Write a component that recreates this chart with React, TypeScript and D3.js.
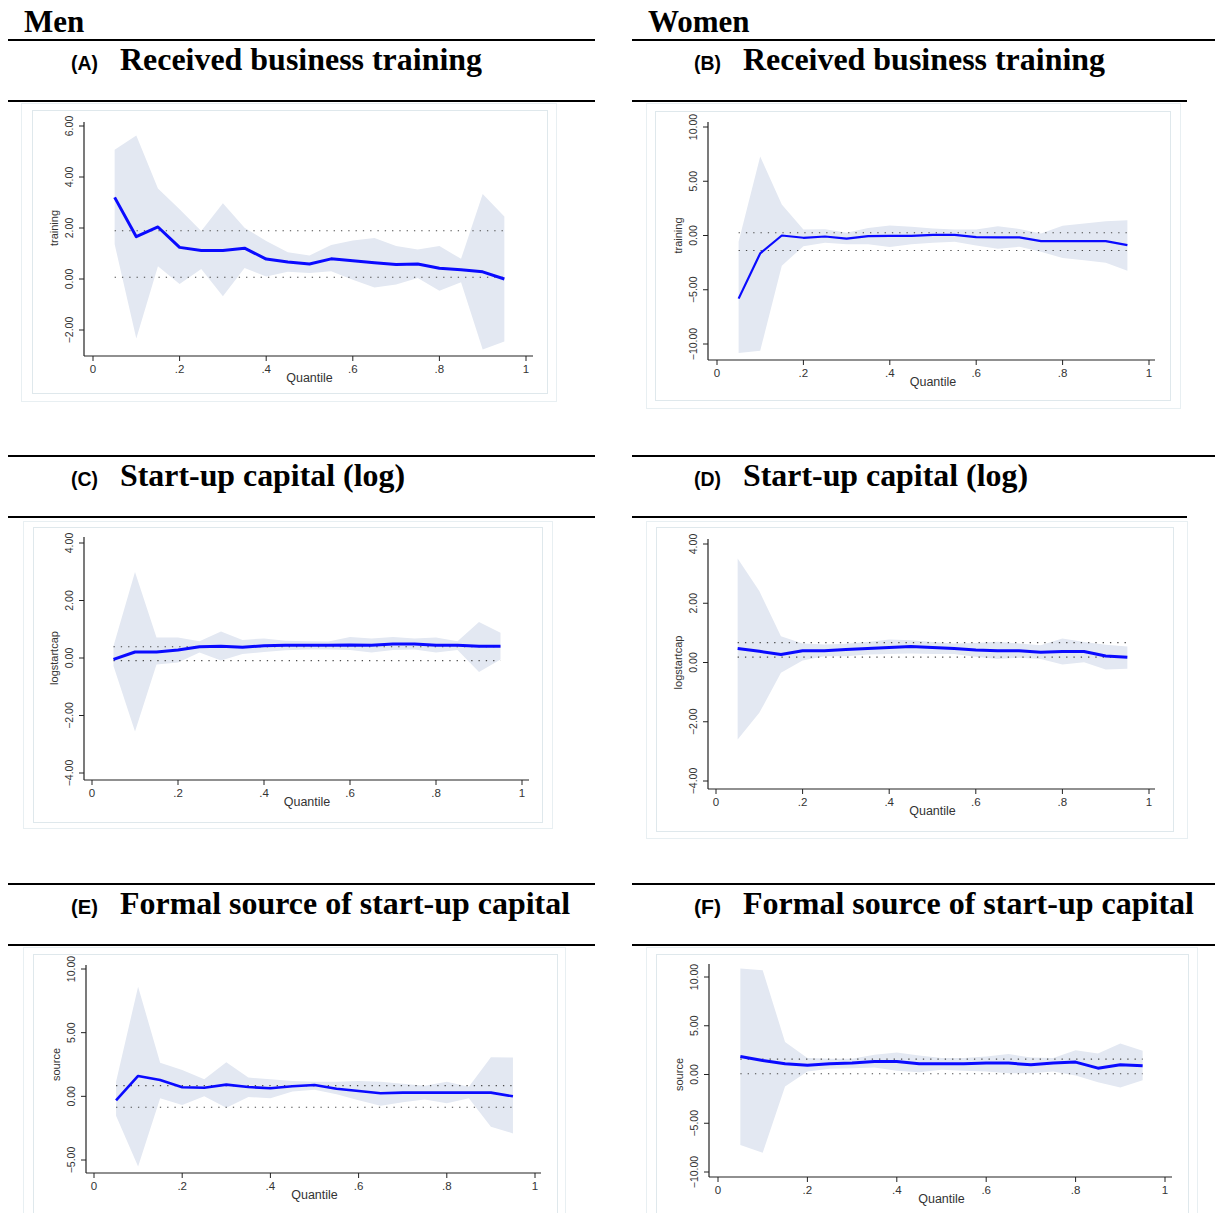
import React from "react";
import * as d3 from "d3";

// ---------- data ----------
const QUANTILES = [0.05, 0.1, 0.15, 0.2, 0.25, 0.3, 0.35, 0.4, 0.45, 0.5, 0.55, 0.6, 0.65, 0.7, 0.75, 0.8, 0.85, 0.9, 0.95];
const X_TICKS = [0, 0.2, 0.4, 0.6, 0.8, 1];
const X_TICK_LABELS = ["0", ".2", ".4", ".6", ".8", "1"];

const COLUMN_HEADERS = ["Men", "Women"];
const PANEL_LETTERS = ["(A)", "(B)", "(C)", "(D)", "(E)", "(F)"];
const PANEL_TITLES = [
  "Received business training",
  "Received business training",
  "Start-up capital (log)",
  "Start-up capital (log)",
  "Formal source of start-up capital",
  "Formal source of start-up capital",
];
const Y_LABELS = ["training", "training", "logstartcap", "logstartcap", "source", "source"];

const A_EST = [3.2, 1.66, 2.04, 1.24, 1.12, 1.12, 1.21, 0.78, 0.67, 0.59, 0.79, 0.72, 0.64, 0.57, 0.59, 0.42, 0.36, 0.28, 0.0];
const A_UPPER = [5.07, 5.63, 3.55, 2.74, 1.88, 2.97, 2.01, 1.49, 1.05, 0.92, 1.33, 1.51, 1.61, 1.29, 1.16, 1.29, 0.79, 3.33, 2.45];
const A_LOWER = [1.36, -2.33, 0.5, -0.2, 0.39, -0.68, 0.43, 0.1, 0.28, 0.24, 0.3, -0.03, -0.33, -0.22, 0.04, -0.46, -0.13, -2.76, -2.45];
const A_OLS = [1.89, 0.07];
const A_Y_TICKS = [-2, 0, 2, 4, 6];

const B_EST = [-5.82, -1.65, 0.0, -0.21, -0.09, -0.28, -0.06, -0.03, -0.03, 0.06, 0.06, -0.15, -0.18, -0.18, -0.52, -0.52, -0.52, -0.52, -0.89];
const B_UPPER = [-0.58, 7.29, 2.85, 0.55, 0.58, 0.25, 0.7, 0.92, 0.8, 0.64, 0.55, 0.55, 0.86, 0.61, 0.18, 0.89, 1.1, 1.32, 1.41];
const B_LOWER = [-10.84, -10.63, -2.79, -0.98, -0.67, -0.8, -0.8, -1.07, -0.8, -0.67, -0.58, -0.92, -1.23, -1.04, -1.5, -2.08, -2.27, -2.51, -3.25];
const B_OLS = [0.25, -1.38];
const B_Y_TICKS = [-10, -5, 0, 5, 10];

const C_EST = [-0.05, 0.21, 0.21, 0.28, 0.39, 0.41, 0.37, 0.43, 0.44, 0.44, 0.44, 0.45, 0.44, 0.49, 0.49, 0.44, 0.44, 0.41, 0.41];
const C_UPPER = [0.42, 2.99, 0.71, 0.71, 0.58, 0.92, 0.63, 0.68, 0.6, 0.58, 0.57, 0.73, 0.68, 0.73, 0.68, 0.71, 0.58, 1.25, 0.88];
const C_LOWER = [-0.28, -2.56, -0.23, -0.16, 0.19, -0.09, 0.14, 0.21, 0.27, 0.3, 0.3, 0.28, 0.19, 0.28, 0.3, 0.19, 0.28, -0.49, -0.05];
const C_OLS = [0.39, -0.09];
const C_Y_TICKS = [-4, -2, 0, 2, 4];

const D_EST = [0.47, 0.38, 0.27, 0.4, 0.4, 0.44, 0.47, 0.51, 0.54, 0.51, 0.47, 0.42, 0.4, 0.4, 0.35, 0.37, 0.37, 0.22, 0.18];
const D_UPPER = [3.51, 2.41, 0.89, 0.64, 0.61, 0.63, 0.69, 0.78, 0.75, 0.69, 0.64, 0.66, 0.7, 0.64, 0.58, 0.81, 0.69, 0.6, 0.54];
const D_LOWER = [-2.6, -1.7, -0.35, 0.07, 0.21, 0.21, 0.27, 0.29, 0.3, 0.29, 0.29, 0.19, 0.12, 0.16, 0.12, -0.07, 0.01, -0.24, -0.21];
const D_OLS = [0.67, 0.18];
const D_Y_TICKS = [-4, -2, 0, 2, 4];

const E_EST = [-0.31, 1.6, 1.28, 0.71, 0.68, 0.92, 0.73, 0.63, 0.79, 0.89, 0.6, 0.42, 0.24, 0.29, 0.29, 0.29, 0.29, 0.29, 0.0];
const E_UPPER = [1.15, 8.61, 2.64, 2.07, 1.34, 2.67, 1.47, 1.34, 1.2, 1.15, 1.15, 1.2, 1.15, 0.99, 0.84, 1.15, 0.76, 3.06, 3.04];
const E_LOWER = [-1.52, -5.52, -0.16, -0.68, 0.0, -0.89, -0.05, -0.16, 0.37, 0.52, 0.16, -0.31, -0.73, -0.47, -0.24, -0.55, -0.16, -2.38, -2.91];
const E_OLS = [0.84, -0.86];
const E_Y_TICKS = [-5, 0, 5, 10];

const F_EST = [1.85, 1.44, 1.1, 0.96, 1.1, 1.17, 1.34, 1.34, 1.1, 1.1, 1.1, 1.17, 1.17, 0.99, 1.17, 1.27, 0.65, 0.99, 0.89];
const F_UPPER = [10.87, 10.7, 3.33, 1.68, 1.61, 1.61, 2.02, 2.26, 1.96, 1.68, 1.68, 1.85, 2.09, 1.75, 1.68, 2.5, 2.16, 3.19, 2.44];
const F_LOWER = [-7.24, -8.03, -1.23, 0.31, 0.58, 0.65, 0.72, 0.38, 0.24, 0.48, 0.38, 0.31, 0.14, 0.14, 0.31, -0.1, -0.79, -1.34, -0.58];
const F_OLS = [1.58, 0.07];
const F_Y_TICKS = [-10, -5, 0, 5, 10];

// ---------- layout (positions only) ----------
type Layout = {
  outer: [number, number, number, number];
  inner: [number, number, number, number];
  x0: number; x1: number;
  yAxisX: number; xAxisY: number;
  yAxisTop: number; xAxisEnd: number;
  yPxLo: number; yPxHi: number;
  lineW: number;
};

const LAYOUTS: Layout[] = [
  { outer: [21, 103, 556, 401], inner: [32, 110, 547, 393], x0: 93, x1: 526, yAxisX: 84, xAxisY: 356, yAxisTop: 122, xAxisEnd: 533, yPxLo: 330, yPxHi: 126, lineW: 3 },
  { outer: [646, 103, 1180, 408], inner: [655, 111, 1170, 400], x0: 717, x1: 1149, yAxisX: 708, xAxisY: 360, yAxisTop: 122, xAxisEnd: 1155, yPxLo: 344, yPxHi: 127, lineW: 2.2 },
  { outer: [23, 521, 552, 828], inner: [33, 527, 542, 822], x0: 92, x1: 522, yAxisX: 84, xAxisY: 780, yAxisTop: 537, xAxisEnd: 529, yPxLo: 773, yPxHi: 543, lineW: 3 },
  { outer: [646, 521, 1187, 838], inner: [656, 527, 1173, 831], x0: 716, x1: 1149, yAxisX: 708, xAxisY: 789, yAxisTop: 539, xAxisEnd: 1155, yPxLo: 781, yPxHi: 544, lineW: 3 },
  { outer: [23, 947, 565, 1240], inner: [33, 954, 557, 1240], x0: 94, x1: 535, yAxisX: 86, xAxisY: 1173, yAxisTop: 965, xAxisEnd: 541, yPxLo: 1160, yPxHi: 969, lineW: 2.6 },
  { outer: [646, 947, 1197, 1240], inner: [656, 954, 1188, 1240], x0: 718, x1: 1165, yAxisX: 709, xAxisY: 1177, yAxisTop: 964, xAxisEnd: 1172, yPxLo: 1172, yPxHi: 977, lineW: 3 },
];

const PANEL_DATA = [
  { est: A_EST, upper: A_UPPER, lower: A_LOWER, ols: A_OLS, yTicks: A_Y_TICKS },
  { est: B_EST, upper: B_UPPER, lower: B_LOWER, ols: B_OLS, yTicks: B_Y_TICKS },
  { est: C_EST, upper: C_UPPER, lower: C_LOWER, ols: C_OLS, yTicks: C_Y_TICKS },
  { est: D_EST, upper: D_UPPER, lower: D_LOWER, ols: D_OLS, yTicks: D_Y_TICKS },
  { est: E_EST, upper: E_UPPER, lower: E_LOWER, ols: E_OLS, yTicks: E_Y_TICKS },
  { est: F_EST, upper: F_UPPER, lower: F_LOWER, ols: F_OLS, yTicks: F_Y_TICKS },
];

// header geometry per row
const ROW_TITLE_BASE = [70, 486, 914];
const ROW_TOP_LINE = [40, 456, 884];
const ROW_BOTTOM_LINE = [101, 517, 945];
const COL_X = [{ lineL: 8, lineR: 595, letter: 71, title: 120, head: 24 }, { lineL: 632, lineR: 1215, letter: 694, title: 743, head: 648 }];
const RIGHT_BOTTOM_END = [1187, 1187, 1215];
const TITLE_WIDTHS = [362, 362, 285, 285, 450, 451];

const SANS = "'Liberation Sans', Arial, Helvetica, sans-serif";
const SERIF = "'Liberation Serif', 'Times New Roman', Times, serif";
const fmt = d3.format(".2f");

function Panel({ i }: { i: number }) {
  const L = LAYOUTS[i];
  const D = PANEL_DATA[i];
  const ticks = D.yTicks;
  const x = d3.scaleLinear().domain([0, 1]).range([L.x0, L.x1]);
  const y = d3.scaleLinear().domain([ticks[0], ticks[ticks.length - 1]]).range([L.yPxLo, L.yPxHi]);
  const rows = QUANTILES.map((q, k) => ({ q, e: D.est[k], u: D.upper[k], l: D.lower[k] }));
  const area = d3.area<any>().x((d) => x(d.q)).y0((d) => y(d.l)).y1((d) => y(d.u));
  const line = d3.line<any>().x((d) => x(d.q)).y((d) => y(d.e));
  const qMin = QUANTILES[0];
  const qMax = QUANTILES[QUANTILES.length - 1];
  const [ox0, oy0, ox1, oy1] = L.outer;
  const [ix0, iy0, ix1, iy1] = L.inner;
  const labelX = L.yAxisX - 15;
  const titleX = L.yAxisX - 30;
  const midY = (L.yPxLo + L.yPxHi) / 2;
  return (
    <g>
      <rect x={ox0 + 0.5} y={oy0 + 0.5} width={ox1 - ox0} height={oy1 - oy0} fill="#fff" stroke="#e8eff2" strokeWidth={1} />
      <rect x={ix0 + 0.5} y={iy0 + 0.5} width={ix1 - ix0} height={iy1 - iy0} fill="#fff" stroke="#dfe8ec" strokeWidth={1} />
      <path d={area(rows) || ""} fill="#e3e8f2" stroke="none" />
      {D.ols.map((v, k) => (
        <line key={k} x1={x(qMin)} x2={x(qMax)} y1={y(v)} y2={y(v)} stroke="#4a4a4a" strokeWidth={1.1} strokeDasharray="1.3 6" />
      ))}
      <path d={line(rows) || ""} fill="none" stroke="#0a0aff" strokeWidth={L.lineW} strokeLinejoin="round" />
      {/* y axis */}
      <line x1={L.yAxisX} x2={L.yAxisX} y1={L.yAxisTop} y2={L.xAxisY} stroke="#222" strokeWidth={1.2} />
      {ticks.map((t) => (
        <g key={t}>
          <line x1={L.yAxisX - 5} x2={L.yAxisX} y1={y(t)} y2={y(t)} stroke="#222" strokeWidth={1} />
          <text
            transform={`translate(${labelX},${y(t)}) rotate(-90)`}
            textAnchor="middle"
            dominantBaseline="central"
            fontFamily={SANS}
            fontSize={10.5}
            fill="#333"
          >
            {fmt(t)}
          </text>
        </g>
      ))}
      <text
        transform={`translate(${titleX},${midY}) rotate(-90)`}
        textAnchor="middle"
        dominantBaseline="central"
        fontFamily={SANS}
        fontSize={11}
        fill="#333"
      >
        {Y_LABELS[i]}
      </text>
      {/* x axis */}
      <line x1={L.yAxisX} x2={L.xAxisEnd} y1={L.xAxisY} y2={L.xAxisY} stroke="#222" strokeWidth={1.2} />
      {X_TICKS.map((t, k) => (
        <g key={t}>
          <line x1={x(t)} x2={x(t)} y1={L.xAxisY} y2={L.xAxisY + 5} stroke="#222" strokeWidth={1} />
          <text x={x(t)} y={L.xAxisY + 17} textAnchor="middle" fontFamily={SANS} fontSize={11.5} fill="#333">
            {X_TICK_LABELS[k]}
          </text>
        </g>
      ))}
      <text x={(L.x0 + L.x1) / 2} y={L.xAxisY + 25.5} textAnchor="middle" fontFamily={SANS} fontSize={12.5} fill="#333">
        Quantile
      </text>
    </g>
  );
}

export default function App() {
  return (
    <svg width={1215} height={1213} style={{ position: "absolute", left: 0, top: 0, background: "#fff" }}>
      <rect x={0} y={0} width={1215} height={1213} fill="#fff" />
      {COLUMN_HEADERS.map((h, c) => (
        <text key={h} x={COL_X[c].head} y={32} fontFamily={SERIF} fontWeight="bold" fontSize={31} fill="#000">
          {h}
        </text>
      ))}
      {[0, 1, 2].map((r) =>
        [0, 1].map((c) => {
          const idx = r * 2 + c;
          const cx = COL_X[c];
          const bottomR = c === 0 ? cx.lineR : RIGHT_BOTTOM_END[r];
          return (
            <g key={idx}>
              <line x1={cx.lineL} x2={cx.lineR} y1={ROW_TOP_LINE[r]} y2={ROW_TOP_LINE[r]} stroke="#000" strokeWidth={2} />
              <line x1={cx.lineL} x2={bottomR} y1={ROW_BOTTOM_LINE[r]} y2={ROW_BOTTOM_LINE[r]} stroke="#000" strokeWidth={2} />
              <text x={cx.letter} y={ROW_TITLE_BASE[r]} fontFamily={SANS} fontWeight="bold" fontSize={21} textLength={27} lengthAdjust="spacingAndGlyphs" fill="#000">
                {PANEL_LETTERS[idx]}
              </text>
              <text x={cx.title} y={ROW_TITLE_BASE[r]} fontFamily={SERIF} fontWeight="bold" fontSize={32} textLength={TITLE_WIDTHS[idx]} lengthAdjust="spacingAndGlyphs" fill="#000">
                {PANEL_TITLES[idx]}
              </text>
            </g>
          );
        })
      )}
      {LAYOUTS.map((_, i) => (
        <Panel key={i} i={i} />
      ))}
    </svg>
  );
}
